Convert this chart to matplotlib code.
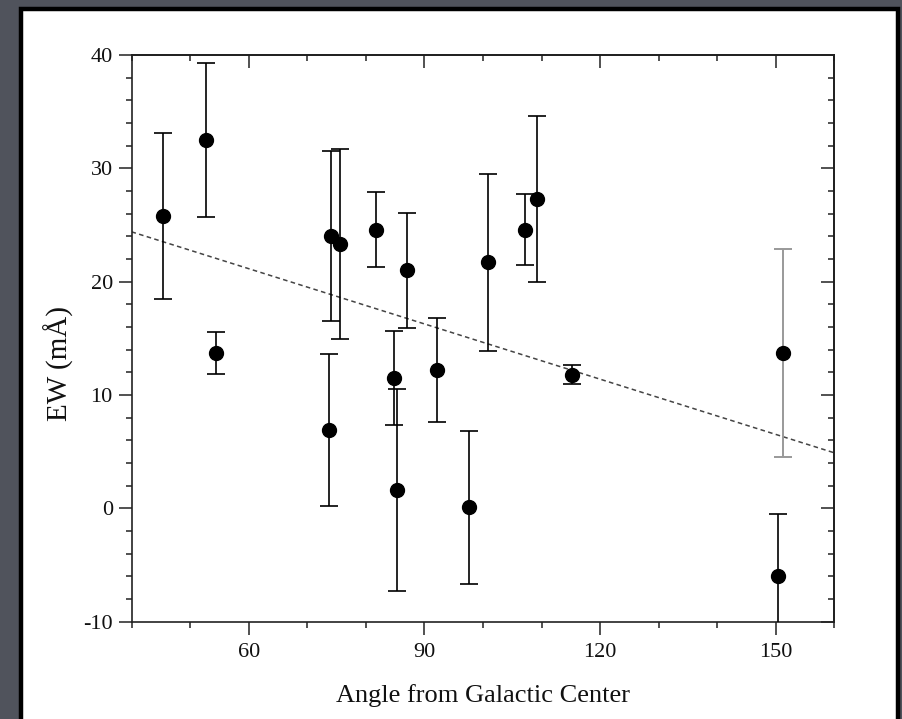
import matplotlib
matplotlib.use("Agg")
import matplotlib.pyplot as plt
from matplotlib.patches import Rectangle
from matplotlib.ticker import MultipleLocator

plt.rcParams['font.family'] = ['Liberation Serif', 'DejaVu Serif']
plt.rcParams['axes.unicode_minus'] = False

# Data
angle = [45.4, 52.7, 54.5, 74.0, 75.6, 81.7, 87.1, 73.7, 84.9, 85.3, 92.2, 97.7, 100.8, 107.1, 109.2, 115.2, 150.3]
ew = [25.8, 32.5, 13.7, 24.0, 23.3, 24.6, 21.0, 6.9, 11.5, 1.6, 12.2, 0.1, 21.7, 24.6, 27.3, 11.8, -6.0]
ew_err = [7.3, 6.8, 1.85, 7.5, 8.4, 3.3, 5.05, 6.7, 4.15, 8.9, 4.6, 6.75, 7.8, 3.15, 7.3, 0.83, 5.5]

# Gray-bar point
gray_angle = [151.2]
gray_ew = [13.7]
gray_err = [9.2]

# Linear fit line
fit_x = [40, 160]
fit_y = [24.4, 4.9]

xticks_major = [60, 90, 120, 150]
yticks_major = [-10, 0, 10, 20, 30, 40]

fig = plt.figure(figsize=(9.02, 7.19), dpi=100)
fig.patch.set_facecolor('#50535c')

panel = Rectangle((0.0233, -0.02), 0.972, 1.007, transform=fig.transFigure,
                  facecolor='white', edgecolor='black', linewidth=3.2, zorder=-10)
fig.patches.append(panel)

ax = fig.add_axes([0.1458, 0.1353, 0.925 - 0.1458, 0.9235 - 0.1353])
ax.set_zorder(1)
ax.set_facecolor('white')

ax.plot(fit_x, fit_y, linestyle=(0, (3, 2.2)), color='#444444', linewidth=1.1, zorder=2)

ax.errorbar(gray_angle, gray_ew, yerr=gray_err, fmt='o', color='black', ecolor='#999999',
            elinewidth=1.4, capsize=6.5, capthick=1.4, markersize=10, zorder=3)
ax.errorbar(angle, ew, yerr=ew_err, fmt='o', color='black', ecolor='black',
            elinewidth=1.2, capsize=6.5, capthick=1.2, markersize=10, zorder=4)

ax.set_xlim(40, 160)
ax.set_ylim(-10, 40)
ax.xaxis.set_major_locator(MultipleLocator(30))
ax.xaxis.set_minor_locator(MultipleLocator(10))
ax.yaxis.set_major_locator(MultipleLocator(10))
ax.yaxis.set_minor_locator(MultipleLocator(2))
ax.set_xticks(xticks_major)
ax.set_yticks(yticks_major)

ax.tick_params(which='both', direction='out', top=False, right=False,
               width=1.1, color='#222222', labelsize=16, labelcolor='#111111')
ax.tick_params(which='major', length=9.5)
ax.tick_params(which='minor', length=4.5)
ax.tick_params(axis='x', which='major', pad=5.5)
ax.tick_params(axis='y', which='major', pad=4)

for s in ax.spines.values():
    s.set_linewidth(1.2)
    s.set_color('#222222')

secx = ax.secondary_xaxis('top', functions=(lambda v: v, lambda v: v))
secx.xaxis.set_major_locator(MultipleLocator(30))
secx.xaxis.set_minor_locator(MultipleLocator(10))
secx.tick_params(which='both', direction='in', labeltop=False, width=1.1, color='#222222')
secx.tick_params(which='major', length=9.5)
secx.tick_params(which='minor', length=4.5)
secx.spines['top'].set_linewidth(1.2)

secy = ax.secondary_yaxis('right', functions=(lambda v: v, lambda v: v))
secy.yaxis.set_major_locator(MultipleLocator(10))
secy.yaxis.set_minor_locator(MultipleLocator(2))
secy.tick_params(which='both', direction='in', labelright=False, width=1.1, color='#222222')
secy.tick_params(which='major', length=9.5)
secy.tick_params(which='minor', length=4.5)
secy.spines['right'].set_linewidth(1.2)

ax.set_xlabel('Angle from Galactic Center', fontsize=19, color='#111111', labelpad=16)
ax.set_ylabel('EW (mÅ)', fontsize=21, color='#111111')
ax.yaxis.set_label_coords(-0.082, 0.455)

fig.savefig('out.png', dpi=100, facecolor=fig.get_facecolor())
